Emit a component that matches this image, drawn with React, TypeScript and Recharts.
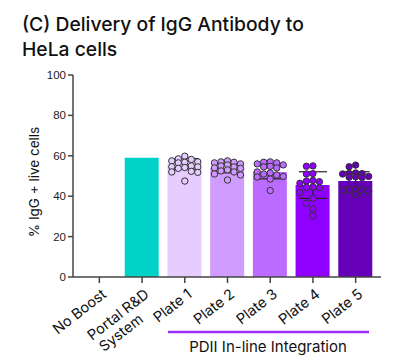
import { ComposedChart, Bar, Cell, Scatter, ErrorBar, XAxis, YAxis } from 'recharts'

// bar chart of means with individual wells overlaid (beeswarm) and SD error bars
const categories = ['No Boost', 'Portal R&D\nSystem', 'Plate 1', 'Plate 2', 'Plate 3', 'Plate 4', 'Plate 5']
const barMeans = [0, 59, 56, 54, 52, 45.5, 47.5]
const barSd = [0, 0, 2.6, 2.4, 3.4, 6.6, 4.6]
const barColors = ['#ffffff', '#00d2c8', '#e6ccff', '#d09cff', '#bb6bff', '#8f00ff', '#6500b8']

const plate1 = [59.8, 58.5, 58.2, 57.5, 57, 56.8, 56.5, 55, 54.6, 54.5, 54.2, 53.8, 52.3, 52, 51.8, 47.5]
const plate2 = [57.5, 57, 56.8, 56.5, 56, 55.5, 55, 54.5, 54, 53.8, 53, 52.5, 52, 51, 50.5, 48]
const plate3 = [57, 56.8, 56.5, 56, 55.5, 54.8, 54.5, 54, 52, 51.5, 51, 50.5, 49.8, 49.5, 48.5, 42.8]
const plate4 = [55, 54.8, 51.2, 51, 47.8, 47.5, 47.2, 46.4, 44.6, 44.4, 44.2, 41.8, 39, 36.5, 33.6, 30.3]
const plate5 = [55.4, 54.6, 51.5, 51.3, 51.2, 51, 49.8, 49.6, 49.4, 49.2, 43.5, 43.2, 43, 42.8, 42.4, 40.8]
const plateDots = [plate1, plate2, plate3, plate4, plate5]

const yTicks = [0, 20, 40, 60, 80, 100]

const W = 397
const H = 364
const PX_PER_UNIT = 202 / 100
const R = 3.2

const data = categories.map((name, i) => ({ name, mean: barMeans[i], sd: barSd[i] }))

// simple beeswarm: nudge each dot sideways until it no longer overlaps
function swarm(name: string, values: number[]) {
  const steps = [0, -6.5, 6.5, -13, 13]
  const placed: { dx: number; py: number }[] = []
  return [...values].sort((a, b) => b - a).map((v) => {
    const py = v * PX_PER_UNIT
    let best = 0
    let bestD = -1
    for (const dx of steps) {
      let minD = Infinity
      for (const p of placed) minD = Math.min(minD, Math.hypot(p.dx - dx, p.py - py))
      if (minD >= 2 * R - 0.4) { best = dx; bestD = Infinity; break }
      if (minD > bestD) { bestD = minD; best = dx }
    }
    placed.push({ dx: best, py })
    return { name, v, dx: best }
  })
}

const errData = data.filter((d) => d.sd > 0)

function XTick({ x, y, payload }: any) {
  const lines = String(payload.value).split('\n')
  return (
    <g transform={`translate(${x + 8},${y + 11}) rotate(-38)`}>
      {lines.map((l, i) => (
        <text key={i} x={i ? -20 : 0} y={i * 16} textAnchor="end" fontFamily="Inter" fontSize={14.5} fill="#111">
          {l}
        </text>
      ))}
    </g>
  )
}

export default function App() {
  return (
    <div style={{ position: 'absolute', left: 0, top: 0, width: W, height: H, background: '#fff' }}>
      <ComposedChart width={W} height={H} data={data} margin={{ top: 75, right: 16, bottom: 0, left: 23 }}>
        <XAxis
          dataKey="name"
          allowDuplicatedCategory={false}
          padding={{ left: 5, right: 4 }}
          interval={0}
          tick={<XTick />}
          tickSize={6}
          axisLine={{ stroke: '#444', strokeWidth: 1.5 }}
          tickLine={{ stroke: '#444', strokeWidth: 1.5 }}
          height={87}
        />
        <YAxis
          domain={[0, 100]}
          ticks={yTicks}
          width={50}
          tickSize={5}
          tickMargin={2}
          axisLine={{ stroke: '#444', strokeWidth: 1.5 }}
          tickLine={{ stroke: '#444', strokeWidth: 1.5 }}
          tick={{ fontFamily: 'Liberation Sans', fontSize: 11.5, fill: '#222' }}
        />
        <Bar dataKey="mean" barSize={34} isAnimationActive={false}>
          {data.map((d, i) => (
            <Cell key={d.name} fill={barColors[i]} />
          ))}
        </Bar>
        {plateDots.map((vals, k) => (
          <Scatter
            key={k}
            data={swarm(categories[k + 2], vals)}
            dataKey="v"
            isAnimationActive={false}
            shape={(p: any) => (
              <circle cx={p.cx + p.payload.dx} cy={p.cy} r={R} fill={barColors[k + 2]} stroke="#333" strokeWidth={1} />
            )}
          />
        ))}
        <Scatter data={errData} dataKey="mean" isAnimationActive={false} shape={() => <g />}>
          <ErrorBar dataKey="sd" direction="y" width={14} stroke="#222" strokeWidth={1.2} />
        </Scatter>
      </ComposedChart>
      <svg width={W} height={H} style={{ position: 'absolute', left: 0, top: 0, pointerEvents: 'none' }}>
        <text x={22} y={31} fontFamily="Inter" fontSize={19.3} fontWeight={500} fill="#111">
          (C) Delivery of IgG Antibody to
        </text>
        <text x={22} y={56} fontFamily="Inter" fontSize={19.3} fontWeight={500} fill="#111">
          HeLa cells
        </text>
        <text
          transform="translate(39,182) rotate(-90)"
          textAnchor="middle"
          fontFamily="Inter"
          fontSize={13.5}
          fill="#111"
        >
          % IgG + live cells
        </text>
        <line x1={168} x2={369} y1={332} y2={332} stroke="#9b2ff5" strokeWidth={2.5} />
        <text x={268} y={352} textAnchor="middle" fontFamily="Inter" fontSize={15} fill="#111">
          PDII In-line Integration
        </text>
      </svg>
    </div>
  )
}
